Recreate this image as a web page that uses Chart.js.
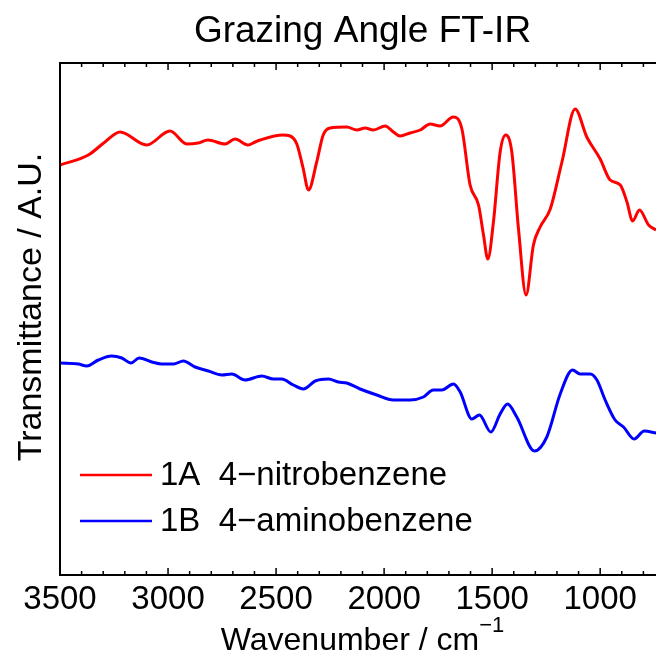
<!DOCTYPE html>
<html>
<head>
<meta charset="utf-8">
<script src="https://cdn.jsdelivr.net/npm/chart.js@4"></script>
<style>
  html, body { margin: 0; padding: 0; background: #fff; overflow: hidden; }
  #wrap { width: 656px; height: 656px; overflow: hidden; }
</style>
</head>
<body>
<div id="wrap"><canvas id="ir" width="680" height="656"></canvas></div>
<script>
// ---------- Data (arbitrary units) ----------

const wavenumbers1A = [3500, 3369, 3292, 3222, 3099, 2991, 2913, 2861, 2815, 2736, 2690, 2630, 2597,
    2574, 2468, 2435, 2404, 2375, 2350, 2312, 2282, 2250, 2173, 2126, 2088, 2050, 1995, 1957,
    1926, 1880, 1833, 1787, 1741, 1680, 1640, 1602, 1563, 1540, 1520, 1494, 1463, 1437, 1409,
    1378, 1343, 1309, 1278, 1231, 1177, 1116, 1062, 1000, 954, 907, 876, 850, 818, 776, 741];
const transmittance1A = [410, 420, 433, 443, 430, 444, 431, 432, 435, 431, 436, 430, 433,
    435, 440, 439, 431, 407, 385, 413, 440, 447, 448, 445, 447, 445, 449, 443,
    439, 442, 445, 451, 449, 458, 446, 390, 370, 340, 316, 353, 423, 440, 423,
    346, 280, 330, 348, 366, 413, 466, 438, 416, 395, 390, 373, 354, 365, 350, 345];

const wavenumbers1B = [3500, 3415, 3376, 3323, 3261, 3214, 3171, 3134, 3075, 3029, 2975, 2929,
    2875, 2813, 2751, 2705, 2644, 2566, 2513, 2474, 2420, 2374, 2319, 2258, 2212, 2173, 2111,
    2034, 1957, 1880, 1818, 1772, 1733, 1679, 1648, 1594, 1559, 1506, 1463, 1429, 1386, 1304,
    1247, 1185, 1128, 1093, 1046, 1015, 977, 931, 892, 843, 796, 741];
const transmittance1B = [212, 211, 209, 215, 219, 217, 212, 217, 213, 211, 211, 214,
    208, 204, 200, 201, 195, 199, 196, 196, 190, 186, 194, 196, 193, 192, 186,
    180, 175, 175, 178, 185, 185, 191, 183, 156, 160, 143, 161, 171, 158, 124,
    138, 181, 205, 201, 201, 195, 175, 155, 148, 136, 144, 142];

const seriesLabels = ['1A  4\u2212nitrobenzene', '1B  4\u2212aminobenzene'];
const seriesColors = ['#ff0000', '#0000ff'];
const xTickValues = [3500, 3000, 2500, 2000, 1500, 1000];

const titleText = 'Grazing Angle FT-IR';
const xTitle = 'Wavenumber / cm';
const yTitle = 'Transmittance / A.U.';

const FONT = '"Liberation Sans", Arial, Helvetica, sans-serif';

function toPoints(xs, ys) {
    return xs.map((x, i) => ({ x: x, y: ys[i] }));
}

// ---------- Frame, ticks, titles, legend ----------

const decorations = {
    id: 'decorations',
    afterDraw(chart) {
        const ctx = chart.ctx;
        const area = chart.chartArea;
        const xs = chart.scales.x;

        ctx.save();

        // box
        ctx.strokeStyle = '#000';
        ctx.lineWidth = 2;
        ctx.strokeRect(area.left, area.top, area.right - area.left, area.bottom - area.top);

        // inward ticks, bottom and top
        ctx.lineWidth = 1.5;
        xs.ticks.forEach(t => {
            const px = xs.getPixelForValue(t.value);
            const len = t.value % 500 === 0 ? 7 : 4;
            ctx.beginPath();
            ctx.moveTo(px, area.bottom);
            ctx.lineTo(px, area.bottom - len);
            ctx.moveTo(px, area.top);
            ctx.lineTo(px, area.top + len);
            ctx.stroke();
        });

        const cx = (area.left + area.right) / 2;
        ctx.fillStyle = '#000';

        // title
        ctx.font = '37px ' + FONT;
        ctx.textAlign = 'center';
        ctx.textBaseline = 'alphabetic';
        ctx.fillText(titleText, cx, 42);

        // x title with superscript
        ctx.font = '32px ' + FONT;
        const w1 = ctx.measureText(xTitle).width;
        ctx.font = '22px ' + FONT;
        const w2 = ctx.measureText('\u22121').width;
        const startX = cx - (w1 + w2) / 2;
        ctx.textAlign = 'left';
        ctx.font = '32px ' + FONT;
        ctx.fillText(xTitle, startX, 650);
        ctx.font = '22px ' + FONT;
        ctx.fillText('\u22121', startX + w1, 632);

        // y title
        ctx.save();
        ctx.translate(32, (area.top + area.bottom) / 2 - 12);
        ctx.rotate(-Math.PI / 2);
        ctx.font = '34px ' + FONT;
        ctx.textAlign = 'center';
        ctx.textBaseline = 'middle';
        ctx.fillText(yTitle, 0, 0);
        ctx.restore();

        // legend
        const rows = [475, 521];
        ctx.font = '33px ' + FONT;
        ctx.textAlign = 'left';
        ctx.textBaseline = 'middle';
        rows.forEach((y, i) => {
            ctx.strokeStyle = seriesColors[i];
            ctx.lineWidth = 2.5;
            ctx.beginPath();
            ctx.moveTo(80, y);
            ctx.lineTo(152, y);
            ctx.stroke();
            ctx.fillStyle = '#000';
            ctx.fillText(seriesLabels[i], 160, y + 1);
        });

        ctx.restore();
    }
};

// ---------- Chart ----------

new Chart(document.getElementById('ir'), {
    type: 'line',
    data: {
        datasets: [{
            label: seriesLabels[0],
            data: toPoints(wavenumbers1A, transmittance1A),
            borderColor: seriesColors[0],
            borderWidth: 3,
            pointRadius: 0,
            cubicInterpolationMode: 'monotone',
            fill: false
        }, {
            label: seriesLabels[1],
            data: toPoints(wavenumbers1B, transmittance1B),
            borderColor: seriesColors[1],
            borderWidth: 3,
            pointRadius: 0,
            cubicInterpolationMode: 'monotone',
            fill: false
        }]
    },
    options: {
        responsive: false,
        animation: false,
        devicePixelRatio: 1,
        layout: { padding: { left: 60, top: 63, right: 15, bottom: 0 } },
        plugins: {
            legend: { display: false },
            title: { display: false },
            tooltip: { enabled: false }
        },
        scales: {
            x: {
                type: 'linear',
                min: 700,
                max: 3500,
                reverse: true,
                grid: { display: false, drawTicks: false },
                border: { display: false },
                afterFit(scale) { scale.height = 81; },
                ticks: {
                    stepSize: 100,
                    autoSkip: false,
                    maxRotation: 0,
                    padding: 5,
                    color: '#000',
                    font: { size: 33, family: FONT },
                    callback: v => xTickValues.includes(v) ? String(v) : ''
                }
            },
            y: {
                display: false,
                min: 0,
                max: 512
            }
        }
    },
    plugins: [decorations]
});
</script>
</body>
</html>
